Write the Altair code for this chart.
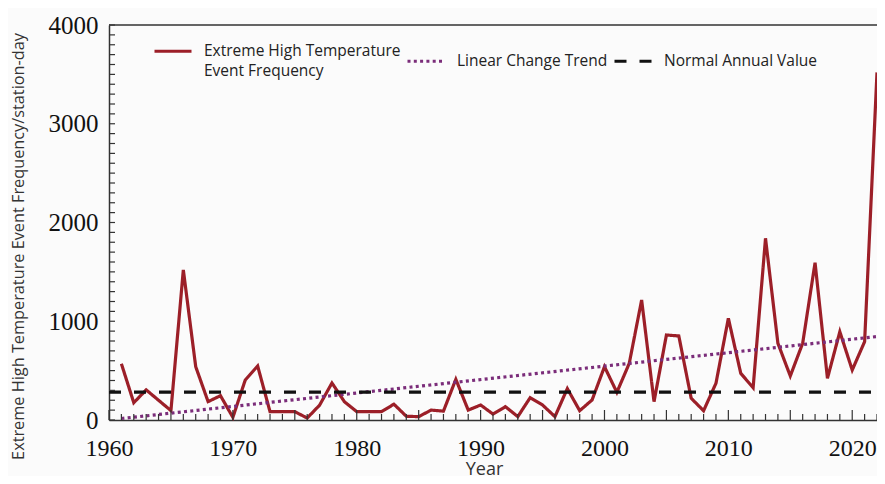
import altair as alt
import pandas as pd

# ---- data ----
years = list(range(1961, 2023))
frequency = [570, 175, 305, 200, 95, 1520, 540, 186, 246, 27,
             405, 547, 84, 84, 84, 20, 150, 375, 186, 85,
             85, 85, 160, 38, 34, 100, 90, 412, 100, 152,
             60, 135, 34, 226, 152, 34, 318, 94, 203, 540,
             280, 574, 1215, 186, 861, 851, 220, 94, 372, 1030,
             473, 327, 1840, 777, 446, 777, 1593, 422, 894, 506,
             793, 3520]
trend_years = [1961, 2022]
trend_values = [15, 845]
normal_years = [1960, 2022]
normal_values = [283, 283]
series_names = ["Extreme High Temperature Event Frequency",
                "Linear Change Trend",
                "Normal Annual Value"]
x_label_values = [1960, 1970, 1980, 1990, 2000, 2010, 2020]
y_label_values = [0, 1000, 2000, 3000, 4000]
x_tick_years = list(range(1960, 2023))
y_tick_values = list(range(0, 4001, 100))

rows = []
for y, v in zip(years, frequency):
    rows.append({"year": y, "value": v, "series": series_names[0]})
for y, v in zip(trend_years, trend_values):
    rows.append({"year": y, "value": v, "series": series_names[1]})
for y, v in zip(normal_years, normal_values):
    rows.append({"year": y, "value": v, "series": series_names[2]})
df = pd.DataFrame(rows)

W, H = 768, 395
AXIS_COLOR = "#333333"

# inward tick geometry (pixel offsets from the axis line)
x_tick_rows = []
for yr in x_tick_years:
    length = 10 if yr % 5 == 0 else 6
    x_tick_rows.append({"year": yr, "py": H, "tid": yr})
    x_tick_rows.append({"year": yr, "py": H - length, "tid": yr})
y_tick_rows = []
for v in y_tick_values:
    y_tick_rows.append({"value": v, "px": 0, "tid": v})
    y_tick_rows.append({"value": v, "px": 6, "tid": v})
border_rows = [{"year": 1960, "py": 0}, {"year": 2022, "py": 0}]

x_scale = alt.Scale(domain=[1960, 2022], nice=False, zero=False)
y_scale = alt.Scale(domain=[0, 4000], nice=False)

legend = alt.Legend(
    orient="none", legendX=44, legendY=6, direction="horizontal", title=None,
    symbolType="stroke", symbolSize=1369, symbolStrokeWidth=3,
    labelFont="Open Sans", labelFontSize=15.5, labelColor="#222222",
    labelOffset=11, columnPadding=0, labelLimit=400,
    labelExpr="datum.label == 'Extreme High Temperature Event Frequency' ? "
              "['Extreme High Temperature', 'Event Frequency'] : datum.label",
)

lines = alt.Chart(df).mark_line(strokeWidth=3.2, strokeCap="butt").encode(
    x=alt.X("year:Q", scale=x_scale, axis=alt.Axis(
        values=x_label_values, format="d", labelFont="Liberation Serif",
        labelFontSize=24, labelColor="#111111", labelPadding=16,
        labelFlush=False, labelOverlap=False, ticks=False, tickSize=0,
        domainColor=AXIS_COLOR, domainWidth=1.5, grid=False,
        title="Year", titleFont="Open Sans", titleFontSize=18,
        titleFontWeight="normal", titleColor="#333333",
        titleX=375, titleY=54, titleBaseline="alphabetic")),
    y=alt.Y("value:Q", scale=y_scale, axis=alt.Axis(
        values=y_label_values, format="d", labelFont="Liberation Serif",
        labelFontSize=25, labelColor="#111111", labelPadding=11,
        labelFlush=False, labelOverlap=False, ticks=False, tickSize=0,
        domainColor=AXIS_COLOR, domainWidth=1.5, grid=False,
        title="Extreme High Temperature Event Frequency/station-day",
        titleFont="Open Sans", titleFontSize=16.3, titleFontWeight="normal",
        titleColor="#333333", titleX=-91, titleY=221,
        titleAlign="center", titleBaseline="middle")),
    color=alt.Color("series:N", scale=alt.Scale(
        domain=series_names, range=["#9c1f28", "#7b2d7a", "#111111"]),
        legend=legend),
    strokeDash=alt.StrokeDash("series:N", scale=alt.Scale(
        domain=series_names, range=[[1, 0], [3, 3.3], [12, 13]]),
        legend=legend),
    order="year:Q",
)

x_ticks = alt.Chart(pd.DataFrame(x_tick_rows)).mark_line(
    strokeWidth=1.2, color=AXIS_COLOR).encode(
    x=alt.X("year:Q", scale=x_scale),
    y=alt.Y("py:Q", scale=None),
    detail="tid:N")
y_ticks = alt.Chart(pd.DataFrame(y_tick_rows)).mark_line(
    strokeWidth=1.2, color=AXIS_COLOR).encode(
    x=alt.X("px:Q", scale=None),
    y=alt.Y("value:Q", scale=y_scale),
    detail="tid:N")
top_border = alt.Chart(pd.DataFrame(border_rows)).mark_line(
    strokeWidth=1.5, color=AXIS_COLOR).encode(
    x=alt.X("year:Q", scale=x_scale),
    y=alt.Y("py:Q", scale=None))

chart = alt.layer(lines, x_ticks, y_ticks, top_border).properties(
    width=W, height=H,
    autosize=alt.AutoSizeParams(type="none"),
    padding={"left": 101, "top": 17, "right": 0, "bottom": 56},
    background="#fbfbfb",
).configure(
    style={"guide-label": {"lineHeight": 20}}
).configure_view(stroke=None)

chart.save("out.html", embed_options={"renderer": "svg", "actions": False})
